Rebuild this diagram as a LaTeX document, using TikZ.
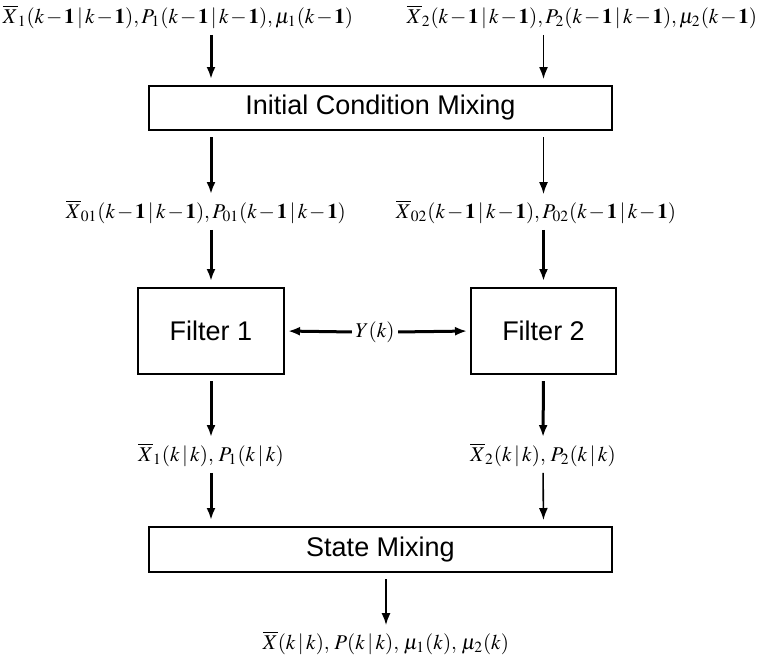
\documentclass[tikz,border=0pt]{standalone}
\usepackage{mathptmx}
\usepackage[no-math]{fontspec}
\setsansfont{Liberation Sans}
\usetikzlibrary{arrows.meta}
\newcommand{\cnd}{\mskip2mu|\mskip2mu}
\newcommand{\one}{\mathbf{1}}
\medmuskip=1.5mu\relax

\begin{document}
\begin{tikzpicture}[x=0.5pt,y=-0.5pt,>={Latex[length=6pt,width=4.5pt]},
  box/.style={draw,line width=1pt,inner sep=0pt,font=\sffamily\fontsize{13.5}{16}\selectfont},
  lab/.style={inner sep=0pt,font=\fontsize{10.5}{13}\selectfont},
  heavyarrow/.style={->,line width=1.5pt,shorten <=3pt,shorten >=3pt},
  lightarrow/.style={->,line width=0.8pt,shorten <=3pt,shorten >=3pt}]
\useasboundingbox (0,0) rectangle (759,661);
% blocks
\node[box,minimum width=231.5pt,minimum height=22pt] (icm) at (380.5,108) {Initial Condition Mixing};
\node[box,minimum width=73pt,minimum height=43pt] (f1) at (211,331) {Filter 1};
\node[box,minimum width=72.5pt,minimum height=43pt] (f2) at (543.5,331) {Filter 2};
\node[box,minimum width=231.5pt,minimum height=22.5pt] (sm) at (380.5,549.5) {State Mixing};
% signals
\node[lab] (in1) at (178,17) {$\overline{X}_1(k-\one\cnd k-\one),P_1(k-\one\cnd k-\one),\mu_1(k-\one)$};
\node[lab] (in2) at (582,17) {$\overline{X}_2(k-\one\cnd k-\one),P_2(k-\one\cnd k-\one),\mu_2(k-\one)$};
\node[lab] (mx1) at (206,212) {$\overline{X}_{01}(k-\one\cnd k-\one),P_{01}(k-\one\cnd k-\one)$};
\node[lab] (mx2) at (536,212) {$\overline{X}_{02}(k-\one\cnd k-\one),P_{02}(k-\one\cnd k-\one)$};
\node[lab] (out1) at (211,455) {$\overline{X}_1(k\cnd k),\,P_1(k\cnd k)$};
\node[lab] (out2) at (543,455) {$\overline{X}_2(k\cnd k),\,P_2(k\cnd k)$};
\node[lab] (meas) at (375,332) {$Y(k)$};
\node[lab] (est) at (386,643) {$\overline{X}(k\cnd k),\,P(k\cnd k),\,\mu_1(k),\,\mu_2(k)$};
% left branch
\draw[heavyarrow] (in1.south -| f1) -- (icm.north -| f1);
\draw[heavyarrow] (icm.south -| f1) -- (mx1.north -| f1);
\draw[heavyarrow] (mx1.south -| f1) -- (f1.north);
\draw[heavyarrow] (f1.south) -- (out1.north);
\draw[heavyarrow] (out1.south) -- (sm.north -| f1);
% right branch
\draw[lightarrow] (in2.south -| f2) -- (icm.north -| f2);
\draw[lightarrow] (icm.south -| f2) -- (mx2.north -| f2);
\draw[heavyarrow] (mx2.south -| f2) -- (f2.north);
\draw[heavyarrow] (f2.south) -- (out2.north);
\draw[lightarrow] (out2.south) -- (sm.north -| f2);
% measurement and output
\draw[heavyarrow,shorten <=1.5pt,shorten >=1.5pt] (meas.west) -- (f1.east);
\draw[heavyarrow,shorten <=1.5pt,shorten >=1.5pt] (meas.east) -- (f2.west);
\draw[lightarrow] (sm.south -| est) -- (est.north);
\end{tikzpicture}
\end{document}
